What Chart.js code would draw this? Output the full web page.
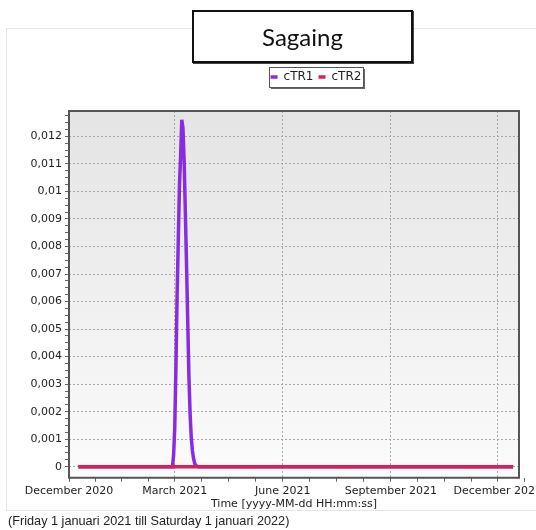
<!DOCTYPE html>
<html>
<head>
<meta charset="utf-8">
<script src="https://cdn.jsdelivr.net/npm/chart.js"></script>
<style>
  body { margin: 0; background: #fff; }
  #wrap { position: relative; width: 536px; height: 530px; }
  #titlebox {
    position: absolute; left: 192px; top: 10px; width: 217px; height: 49px;
    border: 2px solid #111; box-shadow: 1px 1px 0 #444; background: #fff;
    font-family: Lato, "Open Sans", sans-serif; font-size: 24px; color: #111;
    display: flex; align-items: center; justify-content: center; z-index: 2;
  }
</style>
</head>
<body>
<div id="wrap">
  <div id="titlebox">Sagaing</div>
  <canvas id="chart" width="536" height="530"></canvas>
</div>
<script>
// Datos
var seriesNames = ['cTR1', 'cTR2'];
var ctr1Dates = ['2020-12-09', '2021-02-27', '2021-02-28', '2021-03-01', '2021-03-02', '2021-03-03',
  '2021-03-04', '2021-03-05', '2021-03-06', '2021-03-07', '2021-03-08', '2021-03-09', '2021-03-10',
  '2021-03-11', '2021-03-12', '2021-03-13', '2021-03-14', '2021-03-15', '2021-03-16', '2021-03-17',
  '2021-03-18', '2021-03-19', '2021-03-21', '2021-12-14'];
var ctr1Values = [0, 0, 0.0004, 0.0014, 0.0036, 0.0062,
  0.0082, 0.0102, 0.0113, 0.0126, 0.0123, 0.0111, 0.0093,
  0.0074, 0.0054, 0.0034, 0.0020, 0.0011, 0.0006, 0.0003,
  0.00012, 0.00004, 0, 0];
var ctr2Dates = ['2020-12-09', '2021-12-14'];
var ctr2Values = [0, 0];
var xTickDates = ['2020-12-01', '2021-03-01', '2021-06-01', '2021-09-01', '2021-12-01'];
var xTickLabels = ['December 2020', 'March 2021', 'June 2021', 'September 2021', 'December 2021'];
var yTicks = [0, 0.001, 0.002, 0.003, 0.004, 0.005, 0.006, 0.007, 0.008, 0.009, 0.01, 0.011, 0.012];

// dias desde el 1 de diciembre 2020
var origin = Date.UTC(2020, 11, 1);
function dayOf(s) {
  var p = s.split('-');
  return (Date.UTC(+p[0], +p[1] - 1, +p[2]) - origin) / 86400000;
}
function toPoints(dates, values) {
  return dates.map(function (d, i) { return { x: dayOf(d), y: values[i] }; });
}

var xMajor = xTickDates.map(dayOf);
var xTickValues = [];
xMajor.forEach(function (v, i) {
  xTickValues.push(v);
  var next = i < xMajor.length - 1 ? xMajor[i + 1] : v + 92;
  for (var k = 1; k < 4; k++) xTickValues.push(v + (next - v) * k / 4);
});
var yTickValues = [];
yTicks.forEach(function (v) {
  for (var k = 0; k < 4; k++) yTickValues.push(v + 0.00025 * k);
});

function isXMajor(v) { return xMajor.indexOf(v) >= 0; }
function isYMajor(v) { return Math.abs(v * 1000 - Math.round(v * 1000)) < 1e-6; }

var font = 'DejaVu Sans';
var legendTop = 66;

var plotDeco = {
  id: 'plotDeco',
  beforeInit: function (chart) {
    var fit = chart.legend.fit;
    chart.legend.fit = function () {
      fit.bind(chart.legend)();
      this.height = 111 - legendTop;
    };
  },
  afterLayout: function (chart) {
    var l = chart.legend;
    var shift = 316 - (l.left + l.right) / 2;
    l.left += shift;
    l.right += shift;
  },
  beforeDraw: function (chart) {
    var ctx = chart.ctx, a = chart.chartArea;
    ctx.save();
    ctx.strokeStyle = '#e6e6e6';
    ctx.lineWidth = 1;
    ctx.strokeRect(6.5, 28.5, 540, 482);
    var g = ctx.createLinearGradient(0, a.top, 0, a.bottom);
    g.addColorStop(0, '#e4e4e4');
    g.addColorStop(1, '#fbfbfb');
    ctx.fillStyle = g;
    ctx.fillRect(a.left, a.top, a.right - a.left, a.bottom - a.top);
    // caja de la leyenda
    var l = chart.legend;
    var cx = (l.left + l.right) / 2;
    var w = 94;
    ctx.shadowColor = 'rgba(0,0,0,0.6)';
    ctx.shadowOffsetX = 2;
    ctx.shadowOffsetY = 2;
    ctx.fillStyle = '#fff';
    ctx.fillRect(cx - w / 2, 67, w, 20);
    ctx.shadowColor = 'transparent';
    ctx.strokeStyle = '#555';
    ctx.strokeRect(cx - w / 2 + 0.5, 67.5, w, 20);
    ctx.restore();
  },
  afterDatasetsDraw: function (chart) {
    var ctx = chart.ctx, a = chart.chartArea;
    ctx.save();
    ctx.strokeStyle = '#555';
    ctx.lineWidth = 2;
    ctx.strokeRect(a.left, a.top, a.right - a.left, a.bottom - a.top);
    ctx.restore();
  }
};

var ctx = document.getElementById('chart').getContext('2d');
var chart = new Chart(ctx, {
  type: 'line',
  data: {
    datasets: [{
      label: seriesNames[0],
      data: toPoints(ctr1Dates, ctr1Values),
      borderColor: '#8a2be2',
      backgroundColor: '#8a2be2',
      borderWidth: 3.5,
      pointRadius: 0,
      tension: 0,
      order: 1
    }, {
      label: seriesNames[1],
      data: toPoints(ctr2Dates, ctr2Values),
      borderColor: '#dc1e5a',
      backgroundColor: '#dc1e5a',
      borderWidth: 3.5,
      pointRadius: 0,
      tension: 0,
      order: 0
    }]
  },
  options: {
    responsive: false,
    animation: false,
    layout: { padding: { left: 8, right: 17, top: legendTop, bottom: 1 } },
    plugins: {
      legend: {
        position: 'top',
        labels: {
          font: { family: font, size: 12 },
          color: '#222',
          usePointStyle: true,
          pointStyle: 'line',
          pointStyleWidth: 7,
          boxHeight: 7,
          padding: 5,
          sort: function (a, b) { return a.datasetIndex - b.datasetIndex; }
        }
      },
      subtitle: {
        display: true,
        position: 'bottom',
        align: 'start',
        text: '(Friday 1 januari 2021 till Saturday 1 januari 2022)',
        font: { family: 'Liberation Sans', size: 12.7 },
        color: '#222',
        padding: 0
      },
      tooltip: { enabled: false }
    },
    scales: {
      x: {
        type: 'linear',
        min: 0,
        max: 383,
        afterBuildTicks: function (s) {
          s.ticks = xTickValues.map(function (v) { return { value: v }; });
        },
        afterFit: function (s) {
          s.height = 36;
          s.paddingLeft = 0;
          s.paddingRight = 0;
        },
        ticks: {
          autoSkip: false,
          maxRotation: 0,
          padding: 3,
          font: { family: font, size: 11 },
          color: '#222',
          callback: function (v) {
            var i = xMajor.indexOf(v);
            return i >= 0 ? xTickLabels[i] : '';
          }
        },
        grid: {
          color: function (c) { return c.tick && isXMajor(c.tick.value) ? '#a8a8a8' : 'transparent'; },
          tickColor: '#666',
          tickLength: 4,
          lineWidth: 1
        },
        border: { display: false, dash: [2, 2] },
        title: {
          display: true,
          text: 'Time [yyyy-MM-dd HH:mm:ss]',
          font: { family: font, size: 11 },
          color: '#222',
          padding: { top: 0, bottom: 3 }
        }
      },
      y: {
        type: 'linear',
        min: -0.0004,
        max: 0.01292,
        afterBuildTicks: function (s) {
          s.ticks = yTickValues.map(function (v) { return { value: v }; });
        },
        afterFit: function (s) {
          s.width = 61;
          s.paddingTop = 0;
          s.paddingBottom = 0;
        },
        ticks: {
          autoSkip: false,
          padding: 3,
          font: { family: font, size: 11 },
          color: '#222',
          callback: function (v) {
            if (!isYMajor(v)) return '';
            return String(Number(v.toFixed(4))).replace('.', ',');
          }
        },
        grid: {
          color: function (c) { return c.tick && isYMajor(c.tick.value) ? '#a8a8a8' : 'transparent'; },
          tickColor: '#666',
          tickLength: 4,
          lineWidth: 1
        },
        border: { display: false, dash: [2, 2] }
      }
    }
  },
  plugins: [plotDeco]
});
</script>
</body>
</html>
